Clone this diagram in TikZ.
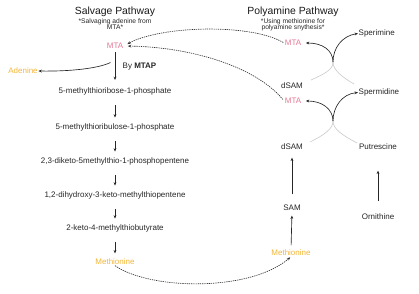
\documentclass[tikz,border=0pt]{standalone}
\usepackage{fontspec}
\setmainfont{Liberation Sans}
\usetikzlibrary{arrows.meta}
\definecolor{mtapink}{HTML}{E57893}
\definecolor{aminoorange}{HTML}{F2B637}
\definecolor{txt}{HTML}{262626}
\tikzset{
  lbl/.style={inner sep=0.5pt, text=txt, font=\fontsize{8}{9.5}\selectfont},
  ttl/.style={inner sep=0.5pt, text=black!90, font=\fontsize{10.4}{12}\selectfont},
  sub/.style={inner sep=0.5pt, text=txt, align=center, font=\fontsize{6.7}{8}\selectfont},
  pink/.style={lbl, text=mtapink},
  orange/.style={lbl, text=aminoorange},
  arr/.style={draw=black!85, line width=0.65pt, -{Stealth[length=3.4pt,width=2.8pt]}},
  dsh/.style={draw=black!80, line width=0.65pt, dash pattern=on 1.3pt off 0.9pt, -{Stealth[length=3.4pt,width=2.8pt]}},
  fade/.style={draw=black!20, line width=0.65pt},
}
\begin{document}
\begin{tikzpicture}[x=1pt,y=-1pt]
\useasboundingbox (0,0) rectangle (419,293);
% Salvage pathway
\node[ttl] (st) at (115,12) {Salvage Pathway};
\node[sub] (ss) at (115,24) {*Salvaging adenine from\\[-1.5pt]MTA*};
\node[pink] (mtaS) at (115,46) {MTA};
\node[lbl, anchor=west] (mtap) at (122,66.5) {By \textbf{MTAP}};
\node[orange] (aden) at (23,71) {Adenine};
\node[lbl] (r1) at (115,91) {5-methylthioribose-1-phosphate};
\node[lbl] (r2) at (115,127) {5-methylthioribulose-1-phosphate};
\node[lbl] (r3) at (115,161) {2,3-diketo-5methylthio-1-phosphopentene};
\node[lbl] (r4) at (115,195) {1,2-dihydroxy-3-keto-methylthiopentene};
\node[lbl] (r5) at (115,228) {2-keto-4-methylthiobutyrate};
\node[orange] (metL) at (115,262) {Methionine};
\coordinate (aS) at (110.5,62.5);
\draw[arr] (aS) .. controls (98,68.5) and (70,71.5) .. (aden.east) ;
\draw[arr] (mtaS.south) ++(0,3) coordinate (m0) -- (115,80) coordinate (m1);
\foreach \a/\b in {r1/r2, r2/r3, r3/r4, r4/r5, r5/metL}{
  \draw[arr, shorten <=10pt, shorten >=5pt] (\a.south) -- (\b.north);
}
% Polyamine pathway
\node[ttl] (pt) at (293,12) {Polyamine Pathway};
\node[sub] (ps) at (293,25) {*Using methionine for\\[-1.5pt]polyamine snythesis*};
\node[pink] (mtaT) at (293,43) {MTA};
\node[lbl, anchor=west] (sper) at (358,33.5) {Sperimine};
\node[lbl] (dsam1) at (292,86) {dSAM};
\node[lbl, anchor=west] (spd) at (358,92.5) {Spermidine};
\node[pink] (mtaB) at (293,101) {MTA};
\node[lbl] (dsam2) at (292,147) {dSAM};
\node[lbl] (put) at (378,147) {Putrescine};
\node[lbl] (sam) at (292,208) {SAM};
\node[lbl] (orn) at (378,217) {Ornithine};
\node[orange] (metR) at (291,253) {Methionine};
\draw[arr, shorten <=4pt, shorten >=4pt] (metR.north) -- (sam.south);
\draw[arr, shorten <=10pt, shorten >=7pt] (sam.north) -- (dsam2.south);
\draw[arr, shorten <=12pt, shorten >=20pt] (orn.north) -- (put.north |- dsam2.south);
% upper X
\coordinate (c1) at (333,62);
\coordinate (l1) at (311,80);
\coordinate (q1) at (354,84);
\draw[fade] (l1) .. controls (324,74) and (333,70) .. (c1);
\draw[fade] (q1) .. controls (342,77) and (333,70) .. (c1);
\draw[arr] (c1) .. controls (333,48) and (342,36) .. (sper.west);
\draw[arr, shorten >=4pt] (c1) .. controls (333,50) and (322,43) .. (mtaT.east);
% lower X
\coordinate (c2) at (333,121);
\coordinate (l2) at (310,142);
\coordinate (q2) at (357,143);
\draw[fade] (l2) .. controls (324,135) and (333,129) .. (c2);
\draw[fade] (q2) .. controls (342,135) and (333,129) .. (c2);
\draw[arr] (c2) .. controls (333,107) and (342,94) .. (spd.west);
\draw[arr, shorten >=4pt] (c2) .. controls (333,109) and (322,101) .. (mtaB.east);
% dashed recycle connectors
\draw[dsh, shorten <=1pt, shorten >=4pt] (mtaT.west) .. controls (250,23) and (160,26) .. (mtaS.east);
\draw[dsh, shorten <=2pt, shorten >=4pt] (mtaB.west) .. controls (255,66) and (190,47) .. (mtaS.east);
\draw[dsh, shorten >=1pt] (metL.south) .. controls (150,290) and (250,292) .. (metR.south);
\end{tikzpicture}
\end{document}
